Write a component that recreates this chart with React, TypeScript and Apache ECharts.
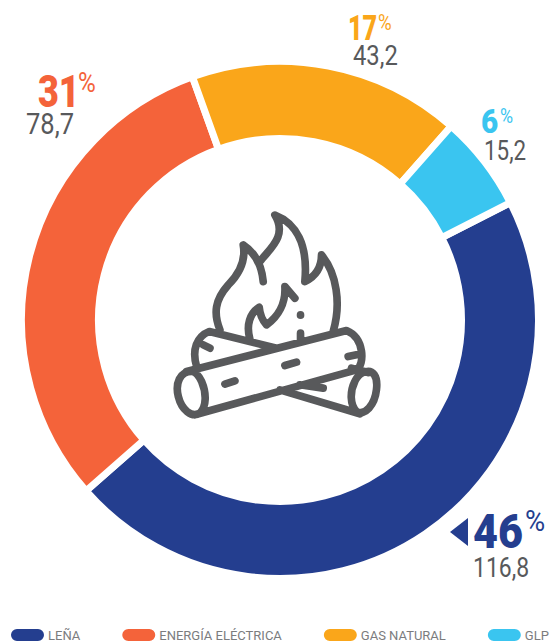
import React, { useEffect, useRef } from "react";
import * as echarts from "echarts";

const categories = ["LEÑA", "ENERGÍA ELÉCTRICA", "GAS NATURAL", "GLP"];
const values = [116.8, 78.7, 43.2, 15.2];
const percents = [46, 31, 17, 6];
const colors = ["#243e8f", "#f4633a", "#faa61a", "#3ac5f0"];
const GRAY = "#58595b";

const CAMPFIRE =
  "M180 390 C160 340 165 300 205 255 C240 220 258 180 250 135 C280 155 305 190 310 245 " +
  "M300 185 C325 150 385 110 345 45 C410 70 445 135 435 245 C465 230 485 205 485 165 C530 220 545 310 520 395 " +
  "M270 418 C258 375 270 340 298 322 C300 345 308 362 320 375 C355 350 378 310 375 260 L405 295 " +
  "M422 345 L422 346 M422 400 L422 425 " +
  "M105 645 L590 510 C615 495 615 415 560 392 L80 515 " +
  "M110 500 C95 450 110 410 148 395 L350 445 " +
  "M360 570 L600 642 M575 505 L625 518 " +
  "M95 515 C60 515 45 550 55 590 C65 630 95 655 120 640 C140 620 140 580 125 545 C115 525 105 515 95 515 Z " +
  "M610 518 C640 505 655 530 650 570 C645 615 615 650 590 635 C570 615 570 575 585 545 C592 530 600 522 610 518 Z " +
  "M130 435 L150 445 M375 497 L410 487 M195 553 L225 543 M565 470 L590 465 M420 555 L490 565";

echarts.graphic.registerShape("campfire", echarts.graphic.extendPath(CAMPFIRE, {}) as any);

const PILL =
  "path://M7 0 H28 A7 7 0 0 1 28 14 H7 A7 7 0 0 1 7 0 Z";

const pctBig = [
  { x: 473, y: 531, size: 49, sx: 0.88, pctX: 525, pctY: 521, pctSize: 29, pctSx: 0.95 },
  { x: 38, y: 91.5, size: 45, sx: 0.8, pctX: 78, pctY: 82.5, pctSize: 27, pctSx: 0.9 },
  { x: 348, y: 28, size: 35, sx: 0.72, pctX: 378, pctY: 22, pctSize: 22, pctSx: 0.85 },
  { x: 481, y: 122, size: 33, sx: 0.9, pctX: 500, pctY: 115.5, pctSize: 21, pctSx: 0.85 },
];
const valuePos = [
  { x: 473, y: 567, size: 28, sx: 0.82 },
  { x: 26, y: 124, size: 29, sx: 0.88 },
  { x: 353, y: 55, size: 28, sx: 0.85 },
  { x: 484, y: 150, size: 28, sx: 0.8 },
];

const fmt = (v: number) => v.toFixed(1).replace(".", ",");

export default function App() {
  const ref = useRef<HTMLDivElement>(null);
  useEffect(() => {
    document.body.style.margin = "0";
    const chart = echarts.init(ref.current!, undefined, { renderer: "svg" });
    const texts: any[] = [];
    percents.forEach((p, i) => {
      const b = pctBig[i];
      const v = valuePos[i];
      texts.push({
        type: "text", x: b.x, y: b.y, scaleX: b.sx,
        style: { text: String(p), fill: colors[i], font: `900 ${b.size}px Roboto`, textAlign: "left", textVerticalAlign: "middle" },
      });
      texts.push({
        type: "text", x: b.pctX, y: b.pctY, scaleX: b.pctSx,
        style: { text: "%", fill: colors[i], font: `400 ${b.pctSize}px Roboto`, textAlign: "left", textVerticalAlign: "middle" },
      });
      texts.push({
        type: "text", x: v.x, y: v.y, scaleX: v.sx,
        style: { text: fmt(values[i]), fill: GRAY, font: `400 ${v.size}px Roboto`, textAlign: "left", textVerticalAlign: "middle" },
      });
    });
    chart.setOption({
      animation: false,
      backgroundColor: "#ffffff",
      color: colors,
      legend: {
        left: 9,
        top: 627,
        padding: 0,
        itemGap: 40,
        itemWidth: 35,
        itemHeight: 14,
        icon: PILL,
        selectedMode: false,
        textStyle: { color: "#7b7c7e", fontFamily: "Roboto", fontSize: 13, lineHeight: 13, padding: [0, 0, 0, -2] },
        data: categories,
      },
      series: [
        {
          type: "pie",
          center: [280, 320],
          radius: [181.5, 258.5],
          startAngle: 27,
          clockwise: true,
          silent: true,
          label: { show: false },
          labelLine: { show: false },
          itemStyle: { borderColor: "#ffffff", borderWidth: 7 },
          data: categories.map((name, i) => ({ name, value: values[i] })),
        },
      ],
      graphic: {
        elements: [
          {
            type: "campfire", x: 160, y: 200, scaleX: 1 / 3, scaleY: 1 / 3,
            style: { fill: "none", stroke: GRAY, lineWidth: 23, lineCap: "round", lineJoin: "round" },
          },
          {
            type: "polygon",
            shape: { points: [[450, 532], [468, 518], [468, 546]] },
            style: { fill: colors[0] },
          },
          ...texts,
        ],
      },
    });
    return () => chart.dispose();
  }, []);
  return <div ref={ref} style={{ width: 552, height: 641 }} />;
}
